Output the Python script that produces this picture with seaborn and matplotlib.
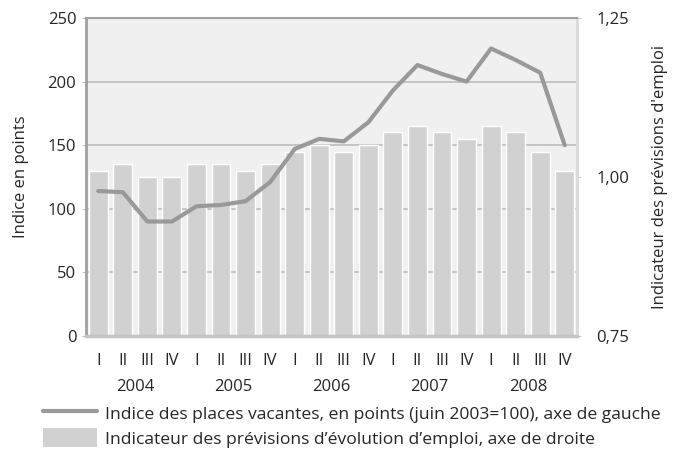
import numpy as np
import pandas as pd
import matplotlib
matplotlib.use("Agg")
import matplotlib.pyplot as plt
import seaborn as sns
from matplotlib.lines import Line2D
from matplotlib.patches import Patch
import matplotlib.transforms as mtransforms

sns.set_style("white")
plt.rcParams['font.family'] = ['Open Sans', 'DejaVu Sans']

# Data
years = ["2004", "2005", "2006", "2007", "2008"]
quarters = ["I", "II", "III", "IV"]
vacancy_index = [114, 113, 90, 90, 102, 103, 106, 121, 147, 155,
                 153, 168, 193, 213, 206, 200, 226, 217, 207, 150]
employment_outlook = [1.01, 1.02, 1.00, 1.00, 1.02, 1.02, 1.01, 1.02, 1.04, 1.05,
                      1.04, 1.05, 1.07, 1.08, 1.07, 1.06, 1.08, 1.07, 1.04, 1.01]

labels = [f"{y} {q}" for y in years for q in quarters]
df = pd.DataFrame({"period": labels,
                   "vacancy": vacancy_index,
                   "outlook": employment_outlook})

line_col = "#999999"
bar_col = "#d1d1d1"
bg_col = "#f0f0f0"
grid_col = "#bdbdbd"
fs = 12

fig = plt.figure(figsize=(6.73, 4.61), dpi=100)
ax = fig.add_axes([86 / 673, 1 - 336 / 461, 491 / 673, 318 / 461])
ax2 = ax.twinx()

# bars on right axis
sns.barplot(data=df, x="period", y="outlook", color=bar_col, width=0.77,
            saturation=1, ax=ax2, zorder=2)
ax2.set_ylim(0.75, 1.25)
ax2.set_yticks([0.75, 1.00, 1.25])
ax2.set_yticklabels(["0,75", "1,00", "1,25"], fontsize=fs)
ax2.set_yticks([0.85, 0.95, 1.05, 1.15], minor=True)
ax2.grid(which="minor", axis="y", color=grid_col, lw=1.2, zorder=0)
ax2.set_axisbelow(True)
ax2.tick_params(axis="y", which="major", length=3, color="#cccccc", pad=11)
ax2.tick_params(axis="y", which="minor", length=0)
ax2.patch.set_visible(True)
ax2.set_facecolor(bg_col)
ax2.set_ylabel("Indicateur des prévisions d'emploi", fontsize=fs, labelpad=16)

# line on left axis, drawn above bars
sns.lineplot(data=df, x="period", y="vacancy", color=line_col, lw=3,
             ax=ax, sort=False, zorder=5)
ax.set_zorder(ax2.get_zorder() + 1)
ax.patch.set_visible(False)
ax.set_ylim(0, 250)
ax.set_xlim(-0.5, len(labels) - 0.5)
ax2.set_xlim(-0.5, len(labels) - 0.5)
ax.set_yticks([0, 50, 100, 150, 200, 250])
ax.set_yticklabels(["0", "50", "100", "150", "200", "250"], fontsize=fs)
ax.tick_params(axis="y", length=3, color=grid_col, pad=4)
ax.set_ylabel("Indice en points", fontsize=fs, labelpad=13)

ax.set_xticks(range(len(labels)))
ax.set_xticklabels(quarters * len(years), fontsize=fs)
ax.tick_params(axis="x", length=0, pad=12)
ax.set_xlabel("")
ax2.set_xlabel("")
ax2.tick_params(axis="x", length=0, labelbottom=False)

trans = mtransforms.blended_transform_factory(ax.transData, ax.transAxes)
for i, y in enumerate(years):
    ax.text(i * 4 + 1.5, -0.16, y, transform=trans, ha="center", va="center",
            fontsize=fs)

# spines
for a in (ax, ax2):
    for s in a.spines.values():
        s.set_visible(False)
ax.spines["left"].set_visible(True)
ax.spines["left"].set_color("#a0a0a0")
ax.spines["left"].set_linewidth(2)
ax.spines["bottom"].set_visible(True)
ax.spines["bottom"].set_color("#c4c4c4")
ax.spines["bottom"].set_linewidth(2.5)
ax.spines["top"].set_visible(True)
ax.spines["top"].set_color("#a0a0a0")
ax.spines["top"].set_linewidth(1.5)
ax2.spines["right"].set_visible(True)
ax2.spines["right"].set_color("#dadada")
ax2.spines["right"].set_linewidth(2)

handles = [Line2D([0], [0], color=line_col, lw=3),
           Patch(facecolor=bar_col, edgecolor="none")]
names = ["Indice des places vacantes, en points (juin 2003=100), axe de gauche",
         "Indicateur des prévisions d’évolution d’emploi, axe de droite"]
fig.legend(handles, names, loc="lower left", bbox_to_anchor=(0.04, -0.005),
           frameon=False, fontsize=12.6, handlelength=3.1, handleheight=1.3,
           handletextpad=0.45, labelspacing=0.3)

fig.savefig("out.png", dpi=100)
